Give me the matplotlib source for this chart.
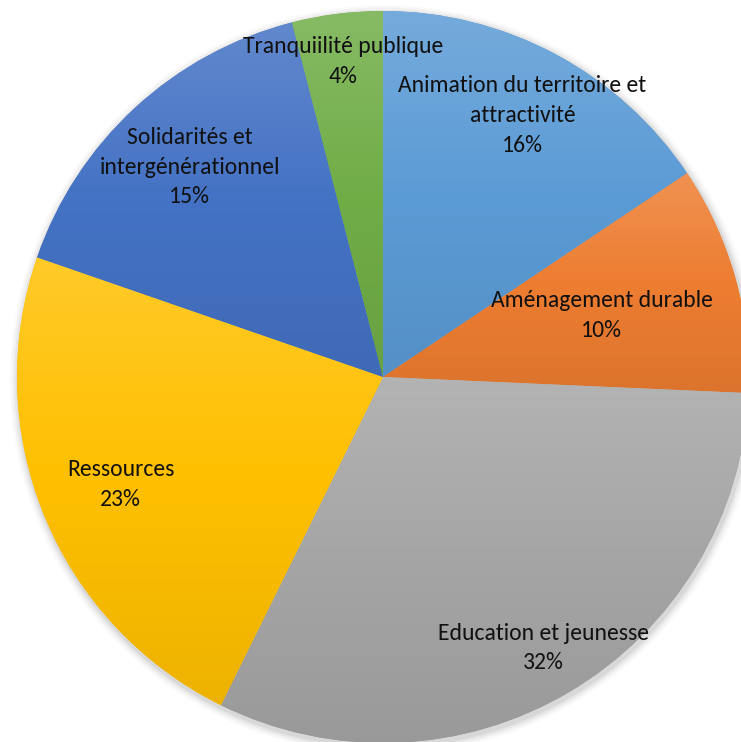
import matplotlib.pyplot as plt
import numpy as np
from matplotlib.colors import to_rgb

labels = ['Animation du territoire et\nattractivité', 'Aménagement durable',
          'Education et jeunesse', 'Ressources',
          'Solidarités et\nintergénérationnel', 'Tranquiilité publique']
# slice shares as measured on the picture, and the rounded % printed on it
shares = [15.6, 10.1, 31.6, 23.0, 15.7, 4.0]
pct_text = [16, 10, 32, 23, 15, 4]
colors = ['#5B9BD5', '#ED7D31', '#A5A5A5', '#FFC000', '#4472C4', '#70AD47']
label_dist = [0.81, 0.62, 0.86, 0.775, 0.78, 0.87]

plt.rcParams['font.family'] = ['Carlito', 'Lato', 'DejaVu Sans']

fig = plt.figure(figsize=(7.41, 7.42), dpi=100)
ax = fig.add_axes([0, 0, 1, 1])
R = 366.0
ax.axis('off')

# soft shadow
for i, a in enumerate([0.06, 0.045, 0.03, 0.02]):
    ax.add_patch(plt.Circle((0.004, -0.008), 1 + 0.006 * (i + 1), color='black',
                            alpha=a, lw=0, zorder=0))

wedges, _ = ax.pie(shares, colors=colors, startangle=90, counterclock=False,
                   radius=1, wedgeprops=dict(linewidth=0))


def shade(c, f):
    c = np.array(to_rgb(c))
    if f > 0:
        return c + (1 - c) * f
    return c * (1 + f)


# vertical gradient fill on each slice
for w, c in zip(wedges, colors):
    v = w.get_path().vertices
    x0, x1 = v[:, 0].min(), v[:, 0].max()
    y0, y1 = v[:, 1].min(), v[:, 1].max()
    t = np.linspace(0, 1, 200)[:, None]
    top, mid, bot = shade(c, 0.16), shade(c, 0.0), shade(c, -0.07)
    grad = np.where(t < 0.5, top + (mid - top) * (t / 0.5),
                    mid + (bot - mid) * ((t - 0.5) / 0.5))
    img = grad[:, None, :].repeat(2, axis=1)
    im = ax.imshow(img, extent=[x0, x1, y0, y1], origin='upper',
                   aspect='auto', zorder=1, interpolation='bilinear')
    im.set_clip_path(w)

ax.set_xlim(-383 / R, 358 / R)
ax.set_ylim(-365 / R, 377 / R)

for w, lab, p, d in zip(wedges, labels, pct_text, label_dist):
    ang = np.deg2rad((w.theta1 + w.theta2) / 2)
    ax.text(d * np.cos(ang), d * np.sin(ang), f'{lab}\n{p}%', ha='center',
            va='center', multialignment='center', fontsize=17,
            linespacing=1.52, color='#111111', zorder=3)

plt.savefig('out.png', dpi=100)
